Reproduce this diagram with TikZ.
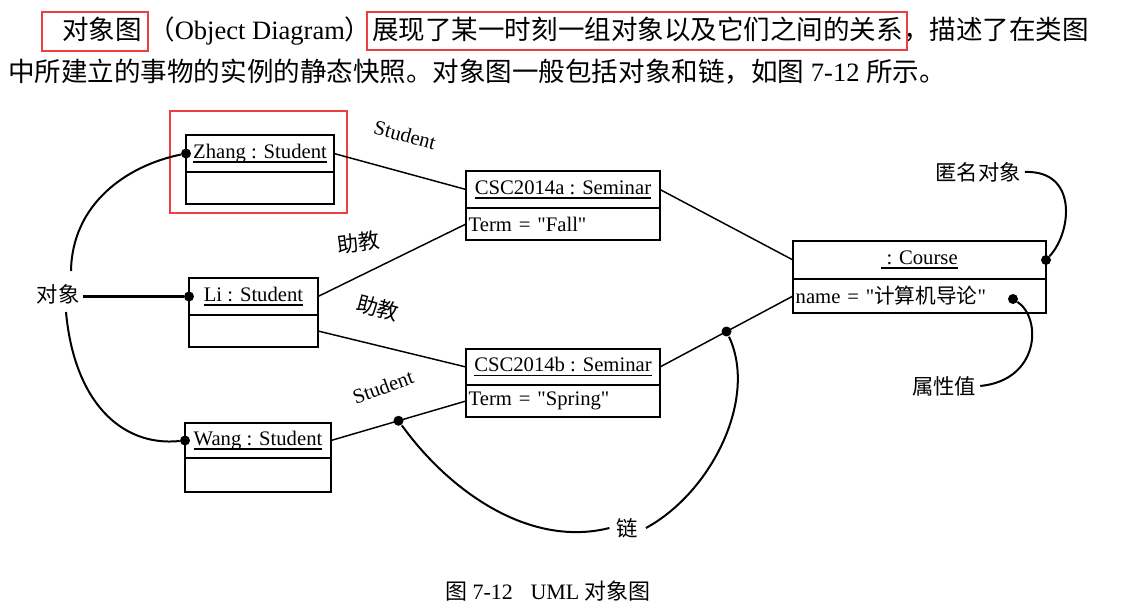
\documentclass[tikz,border=0pt]{standalone}
\usepackage{fontspec}
\setmainfont{Liberation Serif}
\newfontfamily\cjk{Noto Sans CJK SC}
\newcommand\ulx[1]{\setbox0\hbox{#1}\rlap{\vrule height -2pt depth 3.4pt width \wd0}\box0}
\newcommand\qq{\textquotedbl}
\newcommand\bigtxt{\fontsize{19.9pt}{24pt}\selectfont}
\newcommand\boxfont{\fontsize{15.5pt}{18pt}\selectfont}
\newcommand\lblfont{\fontsize{16pt}{19pt}\selectfont}
\definecolor{hlred}{RGB}{236,64,64}
\begin{document}
\begin{tikzpicture}[x=0.75pt,y=-0.75pt,
  hdr/.style={draw, line width=2.1pt, inner sep=0pt, outer sep=0pt, font=\boxfont, anchor=north west, align=center},
  bodybox/.style={draw, line width=2.1pt, inner xsep=2pt, inner ysep=0pt, outer sep=0pt, font=\boxfont, anchor=north west, align=left},
  link/.style={line width=1.1pt},
  note/.style={line width=1.5pt},
  dot/.style={circle, fill=black, inner sep=0pt, minimum size=7.5pt},
  lbl/.style={font=\lblfont, inner sep=0pt},
  toptxt/.style={font=\bigtxt, inner sep=0pt, anchor=base west},
  hl/.style={draw=hlred, line width=2.2pt}]
\useasboundingbox (0,0) rectangle (1121,613);

% ---- top paragraph ----
\node[toptxt] (t1) at (62,40) {\cjk 对象图};
\node[toptxt] (t2) at (148,40) {{\cjk （}Object Diagram{\cjk ）}};
\node[toptxt] (t3) at (372,40) {\cjk 展现了某一时刻一组对象以及它们之间的关系};
\node[toptxt] (t4) at (903,40) {\cjk ，描述了在类图};
\node[toptxt] (t5) at (8,82) {{\cjk 中所建立的事物的实例的静态快照。对象图一般包括对象和链，如图} 7-12 {\cjk 所示。}};
\draw[hl] (42,12) rectangle (148,51);
\draw[hl] (367,12) rectangle (907,50);

% ---- objects ----
\node[hdr, minimum width=111pt, minimum height=27.75pt] (zh) at (186,135) {\ulx{Zhang : Student}};
\node[bodybox, minimum width=111pt, minimum height=24pt] (zhb) at (zh.south west) {};
\draw[hl] (170,111) rectangle (347,213);

\node[hdr, minimum width=145.5pt, minimum height=27.75pt] (ca) at (466,171) {\ulx{CSC2014a : Seminar}};
\node[bodybox, text width=141.5pt, minimum height=24pt] (cab) at (ca.south west) {Term = \qq Fall\qq};

\node[hdr, minimum width=96.75pt, minimum height=27.75pt] (li) at (189,278) {\ulx{Li : Student}};
\node[bodybox, minimum width=96.75pt, minimum height=24pt] (lib) at (li.south west) {};

\node[hdr, minimum width=189.75pt, minimum height=28.5pt] (co) at (793,241) {\ulx{\ : Course}};
\node[bodybox, text width=185.75pt, minimum height=25.5pt] (cob) at (co.south west) {name = \qq{\cjk 计算机导论}\qq};

\node[hdr, minimum width=145.5pt, minimum height=27pt] (cb) at (466,349) {\ulx{CSC2014b : Seminar}};
\node[bodybox, text width=141.5pt, minimum height=24pt] (cbb) at (cb.south west) {Term = \qq Spring\qq};

\node[hdr, minimum width=109.5pt, minimum height=26.25pt] (wg) at (185,423) {\ulx{Wang : Student}};
\node[bodybox, minimum width=109.5pt, minimum height=25.5pt] (wgb) at (wg.south west) {};

% ---- links ----
\draw[link] (zh.east) -- (ca.west);
\draw[link] (li.east) -- (cab.west);
\draw[link] (lib.east) -- (cb.west);
\draw[link] (wg.east) -- node[dot, pos=0.5] (ld1) {} (cbb.west);
\draw[link] (ca.east) -- (co.west);
\draw[link] (cob.west) -- node[dot, pos=0.5] (ld2) {} (cb.east);

% ---- link labels ----
\node[font=\boxfont, rotate=-15, inner sep=0pt] (s1) at (405,135) {Student};
\node[lbl, rotate=8] (a1) at (358,243) {\cjk 助教};
\node[lbl, rotate=-15] (a2) at (378,308) {\cjk 助教};
\node[font=\boxfont, rotate=20, inner sep=0pt] (s2) at (383,387) {Student};

% ---- annotation dots ----
\node[dot] (dz) at (zh.west) {};
\node[dot] (dl) at (li.west) {};
\node[dot] (dw) at (wg.west) {};
\node[dot] (dc) at (co.east) {};
\node[dot] (da) at (1013,299) {};

% ---- annotations ----
\node[lbl] (obj) at (58,294) {\cjk 对象};
\coordinate (objT) at (71,271);
\coordinate (objB) at (66,312);
\coordinate (objR) at (83,296);
\draw[note] (objT) .. controls (72,205) and (125,166) .. (dz);
\draw[line width=2.2pt] (dl -| objR) -- (dl);
\draw[note] (objB) .. controls (74,400) and (120,447) .. (dw);

\node[lbl] (anon) at (978,172) {\cjk 匿名对象};
\draw[note] (anon.east) ++(4,0) .. controls (1078,170) and (1072,232) .. (dc);

\node[lbl] (attr) at (944,386) {\cjk 属性值};
\draw[note] (da) .. controls (1042,318) and (1040,380) .. ([xshift=3pt]attr.east);

\node[lbl] (chain) at (627,528) {\cjk 链};
\draw[note] (ld1) .. controls (450,492) and (530,548) .. ([xshift=-5pt]chain.west);
\draw[note] ([xshift=6pt]chain.east) .. controls (712,492) and (758,398) .. (ld2);

% ---- caption ----
\node[font=\fontsize{16.5pt}{20pt}\selectfont, inner sep=0pt, anchor=base] (cap) at (548,599) {{\cjk 图} 7-12\hspace{0.8em}UML {\cjk 对象图}};
\end{tikzpicture}
\end{document}
